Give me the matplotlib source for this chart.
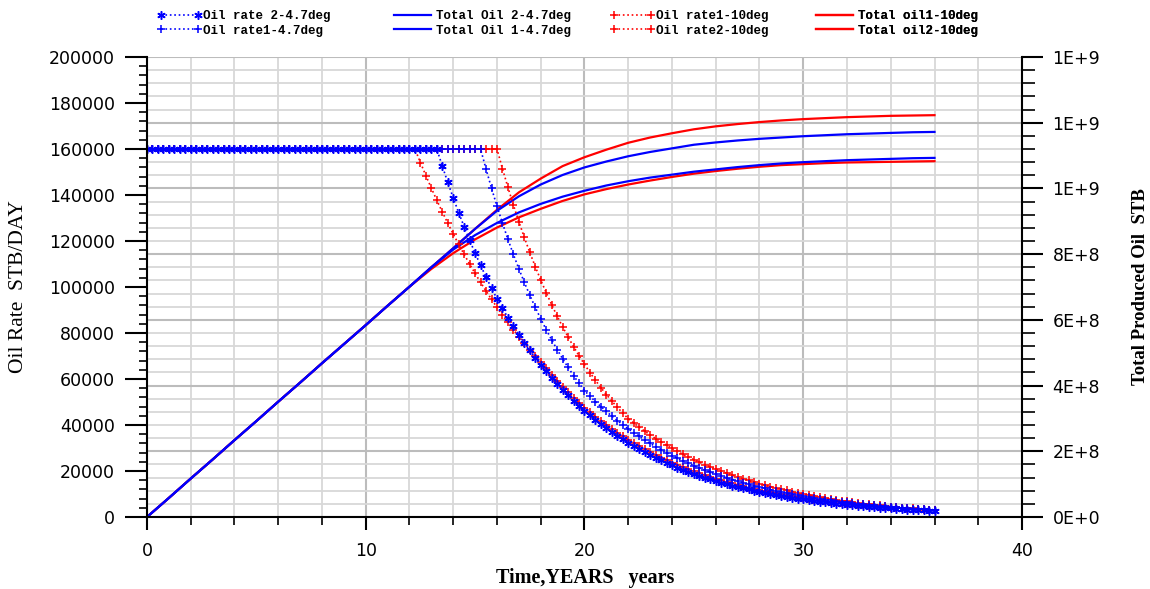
import numpy as np
import matplotlib
matplotlib.use('Agg')
import matplotlib.pyplot as plt
from matplotlib.ticker import MultipleLocator, FuncFormatter

############################### Data ###################################
# rate series sampled every quarter year, 0 .. 36 years
t_rate = np.arange(0, 36.25, 0.25)

rate1_10deg = [
    160000, 160000, 160000, 160000, 160000, 160000, 160000, 160000, 160000, 160000,
    160000, 160000, 160000, 160000, 160000, 160000, 160000, 160000, 160000, 160000,
    160000, 160000, 160000, 160000, 160000, 160000, 160000, 160000, 160000, 160000,
    160000, 160000, 160000, 160000, 160000, 160000, 160000, 160000, 160000, 160000,
    160000, 160000, 160000, 160000, 160000, 160000, 160000, 160000, 160000, 160000,
    154110, 148440, 142980, 137710, 132650, 127760, 123060, 118530, 114170, 109970,
    105920, 102020, 98270, 94650, 91170, 87810, 84580, 81470, 78470, 75580,
    72800, 70120, 67540,
    64650, 61880, 59230, 56700, 54270, 51950, 49720, 47590,
    45560, 43610, 41740, 39950, 38240, 36610, 35040, 33540,
    32100, 30730, 29410, 28160, 26950, 25800, 24690, 23640,
    22620, 21660, 20730, 19840, 18990, 18180, 17400, 16660,
    15940, 15260, 14610, 13980, 13380, 12810, 12260, 11740,
    11240, 10760, 10300, 9850, 9430, 9030, 8640, 8270,
    7920, 7580, 7260, 6940, 6650, 6360, 6090, 5830,
    5580, 5340, 5110, 4890, 4680, 4480, 4290, 4110,
    3930, 3760, 3600, 3450, 3300, 3160, 3020, 2900]

rate2_10deg = [
    160000, 160000, 160000, 160000, 160000, 160000, 160000, 160000, 160000, 160000,
    160000, 160000, 160000, 160000, 160000, 160000, 160000, 160000, 160000, 160000,
    160000, 160000, 160000, 160000, 160000, 160000, 160000, 160000, 160000, 160000,
    160000, 160000, 160000, 160000, 160000, 160000, 160000, 160000, 160000, 160000,
    160000, 160000, 160000, 160000, 160000, 160000, 160000, 160000, 160000, 160000,
    160000, 160000, 160000, 160000, 160000, 160000, 160000, 160000, 160000, 160000,
    160000, 160000, 160000, 160000, 160000,
    151440, 143330, 135660, 128400, 121530, 115030, 108870, 103050, 97530, 92310,
    87370, 82700, 78270, 74080, 70120, 66370, 62810, 59450, 56270, 53260,
    50410, 47710, 45160, 42740,
    40860, 39060, 37340, 35700, 34130, 32630, 31190, 29820,
    28510, 27250, 26050, 24910, 23810, 22760, 21760, 20800,
    19890, 19010, 18180, 17380, 16610, 15880, 15180, 14510,
    13870, 13260, 12680, 12120, 11590, 11080, 10590, 10130,
    9630, 9160, 8710, 8290, 7890, 7500, 7130, 6790,
    6460, 6140, 5840, 5560, 5290, 5030, 4780, 4550,
    4330, 4120, 3920, 3720, 3540, 3370, 3210, 3050]

rate2_47deg = [
    160000, 160000, 160000, 160000, 160000, 160000, 160000, 160000, 160000, 160000,
    160000, 160000, 160000, 160000, 160000, 160000, 160000, 160000, 160000, 160000,
    160000, 160000, 160000, 160000, 160000, 160000, 160000, 160000, 160000, 160000,
    160000, 160000, 160000, 160000, 160000, 160000, 160000, 160000, 160000, 160000,
    160000, 160000, 160000, 160000, 160000, 160000, 160000, 160000, 160000, 160000,
    160000, 160000, 160000, 160000,
    152580, 145500, 138750, 132310, 126180, 120320, 114740, 109420, 104340, 99500,
    94890,
    90710, 86720, 82900, 79250, 75770, 72430, 69250, 66200,
    63290, 60500, 57840, 55290, 52860, 50540, 48310, 46190,
    44150, 42210, 40350, 38580, 36880, 35260, 33710, 32220,
    30800, 29450, 28150, 26910, 25730, 24600, 23520, 22480,
    21490, 20550, 19640, 18780, 17950, 17160, 16410, 15690,
    15000, 14340, 13700, 13100, 12530, 11970, 11450, 10940,
    10460, 10000, 9560, 9140, 8740, 8350, 7990, 7640,
    7300, 6980, 6670, 6380, 6100, 5830, 5570, 5330,
    5090, 4870, 4660, 4450, 4250, 4070, 3890, 3720,
    3550, 3400, 3250, 3110, 2970, 2840, 2710, 2590]

rate1_47deg = [
    160000, 160000, 160000, 160000, 160000, 160000, 160000, 160000, 160000, 160000,
    160000, 160000, 160000, 160000, 160000, 160000, 160000, 160000, 160000, 160000,
    160000, 160000, 160000, 160000, 160000, 160000, 160000, 160000, 160000, 160000,
    160000, 160000, 160000, 160000, 160000, 160000, 160000, 160000, 160000, 160000,
    160000, 160000, 160000, 160000, 160000, 160000, 160000, 160000, 160000, 160000,
    160000, 160000, 160000, 160000, 160000, 160000, 160000, 160000, 160000, 160000,
    160000, 160000,
    151250, 142980, 135160, 127760, 120770, 114170, 107920, 102020, 96440, 91170,
    86180, 81470, 77010, 72800, 68820, 65050, 61490, 58130, 54950,
    52530, 50220, 48010, 45900, 43880, 41950, 40100, 38340,
    36650, 35040, 33490, 32020, 30610, 29260, 27980, 26740,
    25570, 24440, 23370, 22340, 21360, 20420, 19520, 18660,
    17840, 17050, 16300, 15590, 14900, 14240, 13620, 13020,
    12440, 11900, 11370, 10870, 10400, 9940, 9500, 9080,
    8680, 8300, 7940, 7590, 7250, 6930, 6630, 6340,
    6060, 5790, 5540, 5290, 5060, 4840, 4620, 4420,
    4230, 4040, 3860, 3690, 3530, 3380, 3230, 3080]

# cumulative production, yearly, in billions of STB
t_total = np.arange(0, 37, 1)

total1_10deg = [0.000, 0.058, 0.117, 0.175, 0.234, 0.292, 0.351, 0.409, 0.468, 0.526,
                0.584, 0.643, 0.701, 0.755, 0.803, 0.845, 0.881, 0.912, 0.938, 0.962,
                0.982, 0.998, 1.012, 1.024, 1.035, 1.045, 1.053, 1.060, 1.066, 1.071,
                1.074, 1.077, 1.079, 1.080, 1.081, 1.082, 1.083]
total2_10deg = [0.000, 0.058, 0.117, 0.175, 0.234, 0.292, 0.351, 0.409, 0.468, 0.526,
                0.584, 0.643, 0.701, 0.760, 0.818, 0.877, 0.935, 0.988, 1.030, 1.068,
                1.095, 1.118, 1.139, 1.155, 1.168, 1.180, 1.189, 1.196, 1.202, 1.207,
                1.211, 1.214, 1.217, 1.219, 1.221, 1.222, 1.223]
total2_47deg = [0.000, 0.058, 0.117, 0.175, 0.234, 0.292, 0.351, 0.409, 0.468, 0.526,
                0.584, 0.643, 0.701, 0.760, 0.814, 0.858, 0.895, 0.927, 0.953, 0.975,
                0.993, 1.009, 1.022, 1.033, 1.042, 1.051, 1.058, 1.065, 1.071, 1.076,
                1.080, 1.083, 1.086, 1.088, 1.090, 1.092, 1.093]
total1_47deg = [0.000, 0.058, 0.117, 0.175, 0.234, 0.292, 0.351, 0.409, 0.468, 0.526,
                0.584, 0.643, 0.701, 0.760, 0.818, 0.877, 0.932, 0.976, 1.012, 1.041,
                1.064, 1.082, 1.098, 1.111, 1.122, 1.133, 1.140, 1.146, 1.151, 1.155,
                1.159, 1.162, 1.165, 1.167, 1.169, 1.171, 1.172]

############################### Figure ###################################
BLUE = '#0000ff'
RED = '#ff0000'

fig = plt.figure(figsize=(11.5, 5.89), dpi=100)
ax = fig.add_axes([0.1278, 0.1222, 0.7609, 0.781])
ax2 = ax.twinx()
ax.set_zorder(2)
ax2.set_zorder(1)
ax.patch.set_visible(False)

# cumulative (right axis)
l_t1_10, = ax2.plot(t_total, np.array(total1_10deg) * 1e9, color=RED, lw=1.6)
l_t2_10, = ax2.plot(t_total, np.array(total2_10deg) * 1e9, color=RED, lw=1.6)
l_t2_47, = ax2.plot(t_total, np.array(total2_47deg) * 1e9, color=BLUE, lw=1.6)
l_t1_47, = ax2.plot(t_total, np.array(total1_47deg) * 1e9, color=BLUE, lw=1.6)

# rates (left axis)
mk = dict(ls=':', lw=1.2, ms=6, mew=1.1)
l_r1_10, = ax.plot(t_rate, rate1_10deg, color=RED, marker='+', **mk)
l_r2_10, = ax.plot(t_rate, rate2_10deg, color=RED, marker='+', **mk)
l_r1_47, = ax.plot(t_rate, rate1_47deg, color=BLUE, marker='+', **mk)
l_r2_47, = ax.plot(t_rate, rate2_47deg, color=BLUE, marker=(6, 2, 0), **mk)

# axes
ax.set_xlim(0, 40)
ax.set_ylim(0, 200000)
ax2.set_ylim(0, 1.4e9)
ax.xaxis.set_major_locator(MultipleLocator(10))
ax.xaxis.set_minor_locator(MultipleLocator(2))
ax.yaxis.set_major_locator(MultipleLocator(20000))
ax.yaxis.set_minor_locator(MultipleLocator(4000))
ax2.yaxis.set_major_locator(MultipleLocator(2e8))
ax2.yaxis.set_minor_locator(MultipleLocator(4e7))


def sci(v, pos):
    s = '%.0E' % v
    m, e = s.split('E')
    return '%sE%s%d' % (m, e[0], int(e[1:]))


ax2.yaxis.set_major_formatter(FuncFormatter(sci))

# grid lives on the back axes
ax2.xaxis.set_visible(True)
ax2.tick_params(axis='x', which='both', bottom=False, top=False,
                labelbottom=False, labeltop=False)
ax2.grid(which='major', color='#bcbcbc', lw=1.5)
ax2.grid(which='minor', color='#d8d8d8', lw=1.3)

for s in ['top', 'right']:
    ax.spines[s].set_visible(False)
for s in ['top', 'left', 'bottom']:
    ax2.spines[s].set_visible(False)
ax.spines['left'].set_linewidth(1.5)
ax.spines['bottom'].set_linewidth(1.5)
ax2.spines['right'].set_linewidth(1.5)

tickfont = 12.5
ax.tick_params(axis='y', which='major', direction='out', length=16, width=1.5,
               pad=7, labelsize=tickfont)
ax.tick_params(axis='y', which='minor', direction='out', length=6, width=1.2)
ax.tick_params(axis='x', which='major', direction='out', length=9, width=1.5,
               pad=9, labelsize=tickfont)
ax.tick_params(axis='x', which='minor', direction='out', length=6, width=1.2)
ax2.tick_params(axis='y', which='major', direction='out', length=15, width=1.5,
                pad=7, labelsize=tickfont)
ax2.tick_params(axis='y', which='minor', direction='out', length=9, width=1.2)

ax.set_ylabel('Oil Rate  STB/DAY', family='Liberation Serif', fontsize=15.5,
              ha='center', va='center')
ax.yaxis.set_label_coords(-0.147, 0.5)
ax2.set_ylabel('Total Produced Oil  STB', family='Liberation Serif',
               fontsize=13.5, fontweight='bold', ha='center', va='center',
               rotation=90)
ax2.yaxis.set_label_coords(1.135, 0.5)
ax.set_xlabel('Time,YEARS   years', family='Liberation Serif', fontsize=14.5,
              fontweight='bold', ha='center', va='center')
ax.xaxis.set_label_coords(0.5006, -0.133)

# legend: four two-row columns above the plot
columns = [
    ([l_r2_47, l_r1_47], ['Oil rate 2-4.7deg', 'Oil rate1-4.7deg'], 0.0114),
    ([l_t2_47, l_t1_47], ['Total Oil 2-4.7deg', 'Total Oil 1-4.7deg'], 0.2777),
    ([l_r1_10, l_r2_10], ['Oil rate1-10deg', 'Oil rate2-10deg'], 0.529),
    ([l_t1_10, l_t2_10], ['Total oil1-10deg', 'Total oil2-10deg'], 0.760),
]
for hs, ls, x0 in columns:
    leg = ax.legend(hs, ls, loc='upper left', bbox_to_anchor=(x0, 1.102),
                    frameon=False, borderpad=0, borderaxespad=0,
                    handlelength=3.6, handletextpad=0.1, labelspacing=0.2,
                    numpoints=2,
                    prop={'family': 'Liberation Mono', 'weight': 'bold', 'size': 9})
    ax.add_artist(leg)

plt.savefig('out.png', dpi=100)
